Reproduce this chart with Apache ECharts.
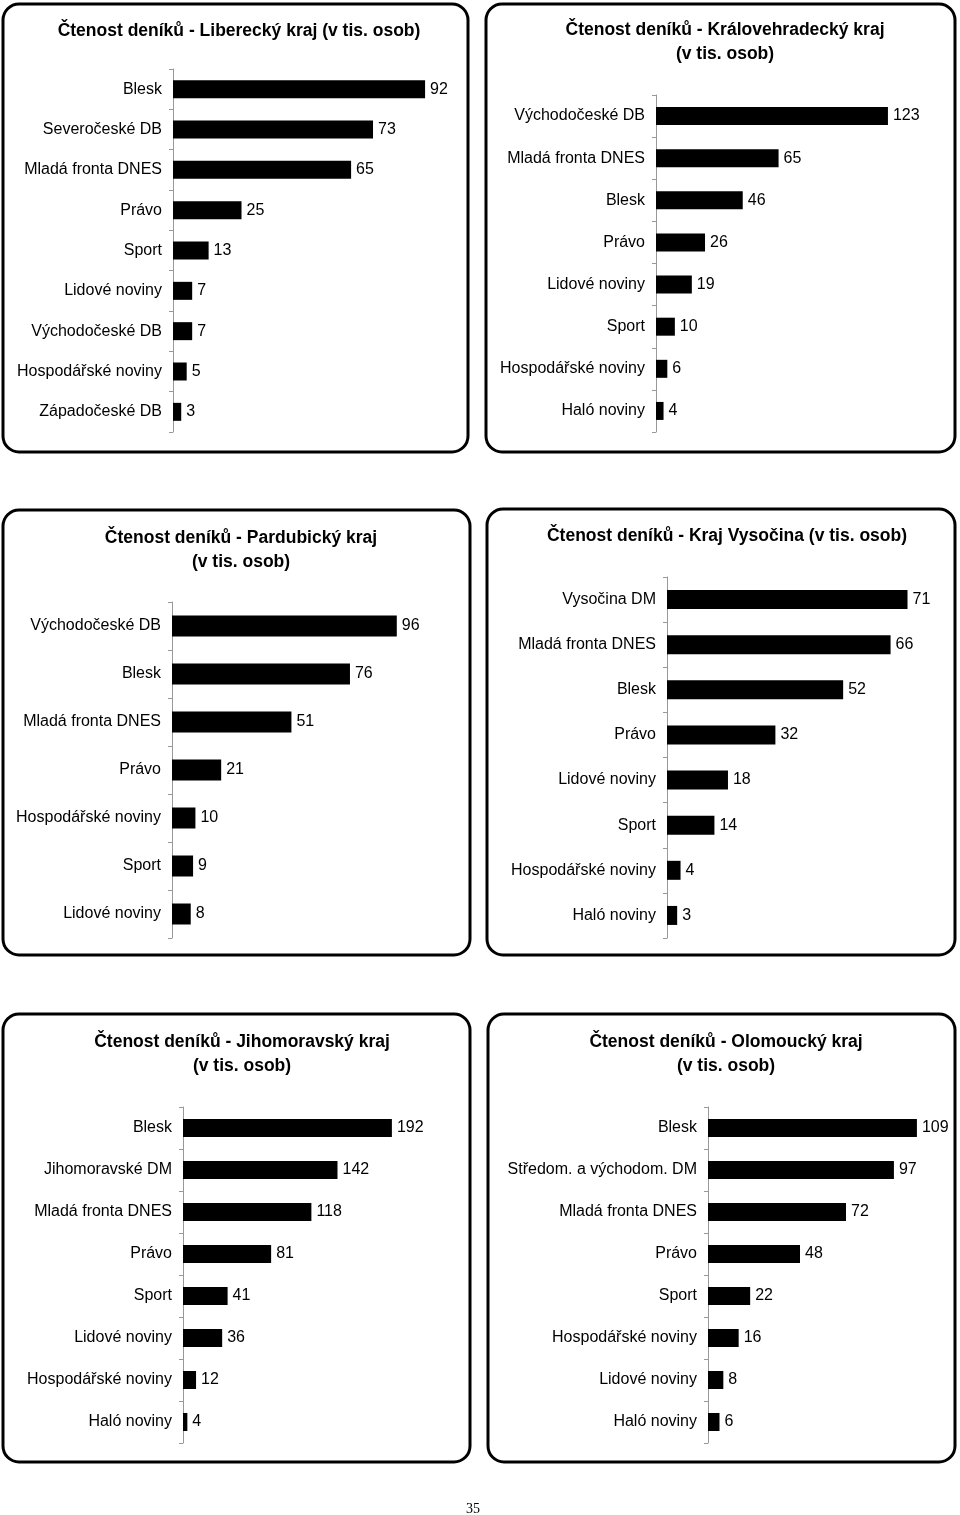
<!DOCTYPE html>
<html>
<head>
<meta charset="utf-8">
<script src="https://cdn.jsdelivr.net/npm/echarts@6/dist/echarts.min.js"></script>
<style>
html,body{margin:0;padding:0;background:#fff;}
#chart{width:960px;height:1515px;}
</style>
</head>
<body>
<div id="chart"></div>
<script>
// ---- Data ----
const titleLiberec = "Čtenost deníků - Liberecký kraj (v tis. osob)";
const catsLiberec = ["Blesk","Severočeské DB","Mladá fronta DNES","Právo","Sport","Lidové noviny","Východočeské DB","Hospodářské noviny","Západočeské DB"];
const valsLiberec = [92,73,65,25,13,7,7,5,3];

const titleHradec = "Čtenost deníků - Královehradecký kraj\n(v tis. osob)";
const catsHradec = ["Východočeské DB","Mladá fronta DNES","Blesk","Právo","Lidové noviny","Sport","Hospodářské noviny","Haló noviny"];
const valsHradec = [123,65,46,26,19,10,6,4];

const titlePardubice = "Čtenost deníků - Pardubický kraj\n(v tis. osob)";
const catsPardubice = ["Východočeské DB","Blesk","Mladá fronta DNES","Právo","Hospodářské noviny","Sport","Lidové noviny"];
const valsPardubice = [96,76,51,21,10,9,8];

const titleVysocina = "Čtenost deníků - Kraj Vysočina (v tis. osob)";
const catsVysocina = ["Vysočina DM","Mladá fronta DNES","Blesk","Právo","Lidové noviny","Sport","Hospodářské noviny","Haló noviny"];
const valsVysocina = [71,66,52,32,18,14,4,3];

const titleJihomorav = "Čtenost deníků - Jihomoravský kraj\n(v tis. osob)";
const catsJihomorav = ["Blesk","Jihomoravské DM","Mladá fronta DNES","Právo","Sport","Lidové noviny","Hospodářské noviny","Haló noviny"];
const valsJihomorav = [192,142,118,81,41,36,12,4];

const titleOlomouc = "Čtenost deníků - Olomoucký kraj\n(v tis. osob)";
const catsOlomouc = ["Blesk","Středom. a východom. DM","Mladá fronta DNES","Právo","Sport","Hospodářské noviny","Lidové noviny","Haló noviny"];
const valsOlomouc = [109,97,72,48,22,16,8,6];

const pageNumber = "35";

// ---- Layout ----
const panels = [
  {title:titleLiberec,   cats:catsLiberec,   vals:valsLiberec,   max:100, grid:{left:173,top:69,  width:274,height:363}, bw:18, box:[3,4,465,448],    tx:234, ty:14},
  {title:titleHradec,    cats:catsHradec,    vals:valsHradec,    max:140, grid:{left:656,top:95,  width:264,height:337}, bw:18, box:[486,4,469,448],  tx:720, ty:13},
  {title:titlePardubice, cats:catsPardubice, vals:valsPardubice, max:120, grid:{left:172,top:602, width:281,height:336}, bw:21, box:[3,510,467,445],  tx:236, ty:521},
  {title:titleVysocina,  cats:catsVysocina,  vals:valsVysocina,  max:80,  grid:{left:667,top:577, width:271,height:361}, bw:19, box:[487,509,468,446], tx:722, ty:519},
  {title:titleJihomorav, cats:catsJihomorav, vals:valsJihomorav, max:250, grid:{left:183,top:1107,width:272,height:336}, bw:18, box:[3,1014,467,448], tx:237, ty:1025},
  {title:titleOlomouc,   cats:catsOlomouc,   vals:valsOlomouc,   max:120, grid:{left:708,top:1107,width:230,height:336}, bw:18, box:[488,1014,467,448],tx:721, ty:1025}
];

const FONT = "'Liberation Sans', Arial, sans-serif";

const option = {
  backgroundColor:'#fff',
  animation:false,
  title: panels.map(p => ({
    text:p.title, left:p.tx, top:p.ty, textAlign:'center',
    textStyle:{fontFamily:FONT, fontWeight:'bold', fontSize:17.5, color:'#000', lineHeight:24}
  })).concat([{
    text:pageNumber, left:468, top:1497, textAlign:'center',
    textStyle:{fontFamily:"'Liberation Serif', 'Times New Roman', serif", fontWeight:'normal', fontSize:14, color:'#000'}
  }]),
  grid: panels.map(p => Object.assign({containLabel:false}, p.grid)),
  xAxis: panels.map((p,i) => ({
    type:'value', gridIndex:i, min:0, max:p.max, show:false
  })),
  yAxis: panels.map((p,i) => ({
    type:'category', gridIndex:i, data:p.cats, inverse:true,
    axisLine:{show:true, lineStyle:{color:'#999', width:1}},
    axisTick:{show:true, length:4, lineStyle:{color:'#999'}},
    axisLabel:{fontFamily:FONT, fontSize:16, color:'#000', margin:11},
    splitLine:{show:false}
  })),
  series: panels.map((p,i) => ({
    type:'bar', xAxisIndex:i, yAxisIndex:i, data:p.vals, barWidth:p.bw,
    itemStyle:{color:'#000'},
    label:{show:true, position:'right', distance:5, fontFamily:FONT, fontSize:16, color:'#000'},
    silent:true
  })),
  graphic: panels.map(p => ({
    type:'rect', silent:true,
    shape:{x:p.box[0], y:p.box[1], width:p.box[2], height:p.box[3], r:16},
    style:{fill:'none', stroke:'#000', lineWidth:3}
  }))
};

const chart = echarts.init(document.getElementById('chart'), null, {renderer:'canvas'});
chart.setOption(option);
</script>
</body>
</html>
